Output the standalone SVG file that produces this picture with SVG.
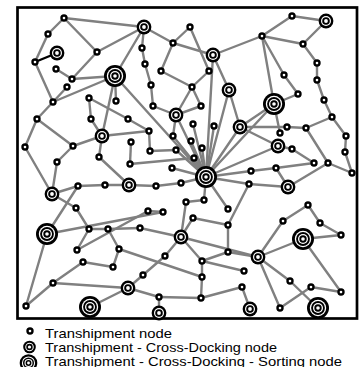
<svg xmlns="http://www.w3.org/2000/svg" xmlns:xlink="http://www.w3.org/1999/xlink" width="361" height="367" viewBox="0 0 361 367">
<style>
.e line{stroke:#808080;stroke-width:2.4;stroke-linecap:round}
.e line.k{stroke:#000}
.t{font-family:"Liberation Sans",Arial,sans-serif;font-size:13px;fill:#000}
</style>
<defs>
<g id="s"><circle r="2.5" fill="#fff" stroke="#000" stroke-width="2.4"/></g>
<g id="m"><circle r="7.4" fill="#000"/><circle r="5" fill="#fff"/><circle r="3.8" fill="#000"/><circle r="1.9" fill="#fff"/></g>
<g id="l"><circle r="11" fill="#000"/><circle r="8.2" fill="#fff"/><circle r="6.9" fill="#000"/><circle r="5" fill="#fff"/><circle r="3.7" fill="#000"/><circle r="1.8" fill="#fff"/></g>
</defs>
<rect x="17.5" y="7.5" width="339.5" height="311" fill="#fff" stroke="#000" stroke-width="2.7"/>
<g id="connectors" class="e">
<line x1="64" y1="18" x2="48" y2="34"/>
<line x1="64" y1="18" x2="144" y2="27"/>
<line x1="64" y1="18" x2="97" y2="52"/>
<line x1="48" y1="34" x2="35" y2="62"/>
<line x1="35" y1="62" x2="53" y2="102"/>
<line x1="56" y1="69" x2="72" y2="79"/>
<line x1="97" y1="52" x2="72" y2="79"/>
<line x1="97" y1="52" x2="144" y2="27"/>
<line x1="72" y1="79" x2="115" y2="76"/>
<line x1="67" y1="87" x2="53" y2="102"/>
<line x1="53" y1="102" x2="115" y2="76"/>
<line x1="53" y1="102" x2="37" y2="119"/>
<line x1="115" y1="76" x2="116" y2="101"/>
<line x1="115" y1="76" x2="102" y2="136"/>
<line x1="115" y1="76" x2="206" y2="177"/>
<line x1="115" y1="76" x2="144" y2="27"/>
<line x1="89" y1="98" x2="91" y2="119"/>
<line x1="89" y1="98" x2="128" y2="119"/>
<line x1="37" y1="119" x2="25" y2="147"/>
<line x1="37" y1="119" x2="73" y2="146"/>
<line x1="73" y1="146" x2="102" y2="136"/>
<line x1="57" y1="162" x2="73" y2="146"/>
<line x1="91" y1="119" x2="102" y2="136"/>
<line x1="102" y1="136" x2="149" y2="131"/>
<line x1="102" y1="136" x2="99" y2="157"/>
<line x1="99" y1="157" x2="129" y2="185"/>
<line x1="25" y1="147" x2="52" y2="194"/>
<line x1="57" y1="162" x2="52" y2="194"/>
<line x1="52" y1="194" x2="78" y2="186"/>
<line x1="78" y1="186" x2="105" y2="185"/>
<line x1="105" y1="185" x2="129" y2="185"/>
<line x1="129" y1="185" x2="156" y2="186"/>
<line x1="156" y1="186" x2="181" y2="183"/>
<line x1="52" y1="194" x2="76" y2="208"/>
<line x1="144" y1="27" x2="142" y2="48"/>
<line x1="144" y1="27" x2="173" y2="43"/>
<line x1="173" y1="43" x2="190" y2="27"/>
<line x1="173" y1="43" x2="213" y2="55"/>
<line x1="173" y1="43" x2="161" y2="71"/>
<line x1="190" y1="27" x2="209" y2="71"/>
<line x1="213" y1="55" x2="262" y2="36"/>
<line x1="213" y1="55" x2="229" y2="90"/>
<line x1="142" y1="48" x2="145" y2="64"/>
<line x1="145" y1="64" x2="151" y2="85"/>
<line x1="161" y1="71" x2="192" y2="87"/>
<line x1="209" y1="71" x2="192" y2="87"/>
<line x1="192" y1="87" x2="201" y2="106"/>
<line x1="192" y1="87" x2="176" y2="115"/>
<line x1="201" y1="106" x2="176" y2="115"/>
<line x1="151" y1="85" x2="153" y2="106"/>
<line x1="153" y1="106" x2="176" y2="115"/>
<line x1="229" y1="90" x2="240" y2="127"/>
<line x1="229" y1="90" x2="206" y2="177"/>
<line x1="213" y1="55" x2="206" y2="177"/>
<line x1="292" y1="16" x2="326" y2="21"/>
<line x1="292" y1="16" x2="262" y2="36"/>
<line x1="262" y1="36" x2="303" y2="44"/>
<line x1="262" y1="36" x2="274" y2="104"/>
<line x1="262" y1="36" x2="284" y2="75"/>
<line x1="326" y1="21" x2="303" y2="44"/>
<line x1="303" y1="44" x2="317" y2="63"/>
<line x1="317" y1="63" x2="317" y2="80"/>
<line x1="317" y1="80" x2="324" y2="100"/>
<line x1="284" y1="75" x2="298" y2="94"/>
<line x1="298" y1="94" x2="274" y2="104"/>
<line x1="274" y1="104" x2="240" y2="127"/>
<line x1="274" y1="104" x2="206" y2="177"/>
<line x1="240" y1="127" x2="278" y2="146"/>
<line x1="206" y1="177" x2="278" y2="146"/>
<line x1="206" y1="177" x2="240" y2="127"/>
<line x1="128" y1="119" x2="149" y2="131"/>
<line x1="149" y1="131" x2="150" y2="151"/>
<line x1="131" y1="142" x2="130" y2="164"/>
<line x1="130" y1="164" x2="194" y2="158"/>
<line x1="176" y1="115" x2="173" y2="136"/>
<line x1="176" y1="115" x2="206" y2="177"/>
<line x1="193" y1="124" x2="206" y2="177"/>
<line x1="214" y1="126" x2="206" y2="177"/>
<line x1="173" y1="136" x2="206" y2="177"/>
<line x1="191" y1="141" x2="206" y2="177"/>
<line x1="176" y1="150" x2="206" y2="177"/>
<line x1="202" y1="148" x2="206" y2="177"/>
<line x1="194" y1="158" x2="206" y2="177"/>
<line x1="172" y1="168" x2="206" y2="177"/>
<line x1="181" y1="183" x2="206" y2="177"/>
<line x1="206" y1="177" x2="204" y2="200"/>
<line x1="206" y1="177" x2="251" y2="171"/>
<line x1="251" y1="171" x2="276" y2="168"/>
<line x1="206" y1="177" x2="249" y2="184"/>
<line x1="249" y1="184" x2="288" y2="187"/>
<line x1="150" y1="151" x2="176" y2="150"/>
<line x1="274" y1="104" x2="280" y2="133"/>
<line x1="240" y1="127" x2="287" y2="127"/>
<line x1="287" y1="127" x2="306" y2="128"/>
<line x1="306" y1="128" x2="332" y2="117"/>
<line x1="332" y1="117" x2="324" y2="100"/>
<line x1="332" y1="117" x2="346" y2="136"/>
<line x1="346" y1="136" x2="345" y2="152"/>
<line x1="345" y1="152" x2="352" y2="173"/>
<line x1="306" y1="128" x2="328" y2="163"/>
<line x1="328" y1="163" x2="352" y2="173"/>
<line x1="328" y1="163" x2="288" y2="187"/>
<line x1="292" y1="149" x2="314" y2="163"/>
<line x1="314" y1="163" x2="276" y2="168"/>
<line x1="276" y1="168" x2="288" y2="187"/>
<line x1="278" y1="146" x2="292" y2="149"/>
<line x1="283" y1="221" x2="308" y2="205"/>
<line x1="320" y1="223" x2="308" y2="205"/>
<line x1="320" y1="223" x2="341" y2="235"/>
<line x1="303" y1="239" x2="341" y2="235"/>
<line x1="303" y1="239" x2="258" y2="257"/>
<line x1="303" y1="239" x2="341" y2="292"/>
<line x1="283" y1="221" x2="258" y2="257"/>
<line x1="258" y1="257" x2="228" y2="252"/>
<line x1="258" y1="257" x2="280" y2="308"/>
<line x1="258" y1="257" x2="290" y2="281"/>
<line x1="290" y1="281" x2="318" y2="308"/>
<line x1="242" y1="287" x2="250" y2="309"/>
<line x1="244" y1="271" x2="202" y2="261"/>
<line x1="311" y1="287" x2="341" y2="292"/>
<line x1="311" y1="287" x2="280" y2="308"/>
<line x1="181" y1="237" x2="258" y2="257"/>
<line x1="108" y1="229" x2="140" y2="228"/>
<line x1="140" y1="228" x2="181" y2="237"/>
<line x1="181" y1="237" x2="186" y2="202"/>
<line x1="181" y1="237" x2="193" y2="218"/>
<line x1="193" y1="218" x2="228" y2="225"/>
<line x1="181" y1="237" x2="165" y2="256"/>
<line x1="165" y1="256" x2="143" y2="275"/>
<line x1="143" y1="275" x2="128" y2="288"/>
<line x1="181" y1="237" x2="202" y2="261"/>
<line x1="202" y1="261" x2="202" y2="277"/>
<line x1="202" y1="277" x2="201" y2="298"/>
<line x1="201" y1="298" x2="159" y2="297"/>
<line x1="159" y1="297" x2="128" y2="288"/>
<line x1="159" y1="297" x2="159" y2="313"/>
<line x1="201" y1="298" x2="242" y2="287"/>
<line x1="119" y1="249" x2="202" y2="277"/>
<line x1="228" y1="225" x2="228" y2="252"/>
<line x1="228" y1="252" x2="202" y2="261"/>
<line x1="228" y1="225" x2="249" y2="184"/>
<line x1="47" y1="234" x2="163" y2="212"/>
<line x1="47" y1="234" x2="78" y2="186"/>
<line x1="47" y1="234" x2="26" y2="306"/>
<line x1="89" y1="229" x2="77" y2="250"/>
<line x1="89" y1="229" x2="108" y2="229"/>
<line x1="76" y1="208" x2="89" y2="229"/>
<line x1="108" y1="229" x2="119" y2="249"/>
<line x1="119" y1="249" x2="113" y2="267"/>
<line x1="83" y1="262" x2="113" y2="267"/>
<line x1="83" y1="262" x2="53" y2="283"/>
<line x1="53" y1="283" x2="26" y2="306"/>
<line x1="53" y1="283" x2="128" y2="288"/>
<line x1="90" y1="307" x2="128" y2="288"/>
<line x1="77" y1="250" x2="148" y2="211"/>
<line x1="148" y1="211" x2="163" y2="212"/>
<line x1="206" y1="177" x2="228" y2="209"/>
<line x1="204" y1="200" x2="186" y2="202"/>
<line class="k" x1="35" y1="62" x2="57" y2="53"/>
</g>
<g id="n1"><use xlink:href="#s" x="64" y="18"/></g>
<g id="n2"><use xlink:href="#s" x="48" y="34"/></g>
<g id="n3"><use xlink:href="#m" x="57" y="53"/></g>
<g id="n4"><use xlink:href="#s" x="35" y="62"/></g>
<g id="n5"><use xlink:href="#s" x="56" y="69"/></g>
<g id="n6"><use xlink:href="#s" x="97" y="52"/></g>
<g id="n7"><use xlink:href="#l" x="115" y="76"/></g>
<g id="n8"><use xlink:href="#s" x="72" y="79"/></g>
<g id="n9"><use xlink:href="#s" x="67" y="87"/></g>
<g id="n10"><use xlink:href="#s" x="89" y="98"/></g>
<g id="n11"><use xlink:href="#s" x="53" y="102"/></g>
<g id="n12"><use xlink:href="#s" x="116" y="101"/></g>
<g id="n13"><use xlink:href="#m" x="144" y="27"/></g>
<g id="n14"><use xlink:href="#s" x="190" y="27"/></g>
<g id="n15"><use xlink:href="#s" x="173" y="43"/></g>
<g id="n16"><use xlink:href="#s" x="142" y="48"/></g>
<g id="n17"><use xlink:href="#m" x="213" y="55"/></g>
<g id="n18"><use xlink:href="#s" x="145" y="64"/></g>
<g id="n19"><use xlink:href="#s" x="161" y="71"/></g>
<g id="n20"><use xlink:href="#s" x="209" y="71"/></g>
<g id="n21"><use xlink:href="#s" x="151" y="85"/></g>
<g id="n22"><use xlink:href="#s" x="192" y="87"/></g>
<g id="n23"><use xlink:href="#m" x="229" y="90"/></g>
<g id="n24"><use xlink:href="#s" x="153" y="106"/></g>
<g id="n25"><use xlink:href="#s" x="201" y="106"/></g>
<g id="n26"><use xlink:href="#m" x="176" y="115"/></g>
<g id="n27"><use xlink:href="#s" x="292" y="16"/></g>
<g id="n28"><use xlink:href="#m" x="326" y="21"/></g>
<g id="n29"><use xlink:href="#s" x="262" y="36"/></g>
<g id="n30"><use xlink:href="#s" x="303" y="44"/></g>
<g id="n31"><use xlink:href="#s" x="317" y="63"/></g>
<g id="n32"><use xlink:href="#s" x="284" y="75"/></g>
<g id="n33"><use xlink:href="#s" x="317" y="80"/></g>
<g id="n34"><use xlink:href="#s" x="298" y="94"/></g>
<g id="n35"><use xlink:href="#l" x="274" y="104"/></g>
<g id="n36"><use xlink:href="#s" x="324" y="100"/></g>
<g id="n37"><use xlink:href="#s" x="37" y="119"/></g>
<g id="n38"><use xlink:href="#s" x="91" y="119"/></g>
<g id="n39"><use xlink:href="#s" x="25" y="147"/></g>
<g id="n40"><use xlink:href="#s" x="73" y="146"/></g>
<g id="n41"><use xlink:href="#m" x="102" y="136"/></g>
<g id="n42"><use xlink:href="#s" x="99" y="157"/></g>
<g id="n43"><use xlink:href="#s" x="57" y="162"/></g>
<g id="n44"><use xlink:href="#s" x="78" y="186"/></g>
<g id="n45"><use xlink:href="#s" x="105" y="185"/></g>
<g id="n46"><use xlink:href="#m" x="129" y="185"/></g>
<g id="n47"><use xlink:href="#m" x="52" y="194"/></g>
<g id="n48"><use xlink:href="#s" x="76" y="208"/></g>
<g id="n49"><use xlink:href="#s" x="128" y="119"/></g>
<g id="n50"><use xlink:href="#s" x="193" y="124"/></g>
<g id="n51"><use xlink:href="#s" x="214" y="126"/></g>
<g id="n52"><use xlink:href="#m" x="240" y="127"/></g>
<g id="n53"><use xlink:href="#s" x="149" y="131"/></g>
<g id="n54"><use xlink:href="#s" x="173" y="136"/></g>
<g id="n55"><use xlink:href="#s" x="191" y="141"/></g>
<g id="n56"><use xlink:href="#s" x="131" y="142"/></g>
<g id="n57"><use xlink:href="#s" x="150" y="151"/></g>
<g id="n58"><use xlink:href="#s" x="176" y="150"/></g>
<g id="n59"><use xlink:href="#s" x="202" y="148"/></g>
<g id="n60"><use xlink:href="#s" x="194" y="158"/></g>
<g id="n61"><use xlink:href="#s" x="130" y="164"/></g>
<g id="n62"><use xlink:href="#s" x="172" y="168"/></g>
<g id="n63"><use xlink:href="#l" x="206" y="177"/></g>
<g id="n64"><use xlink:href="#s" x="156" y="186"/></g>
<g id="n65"><use xlink:href="#s" x="181" y="183"/></g>
<g id="n66"><use xlink:href="#s" x="204" y="200"/></g>
<g id="n67"><use xlink:href="#s" x="186" y="202"/></g>
<g id="n68"><use xlink:href="#s" x="148" y="211"/></g>
<g id="n69"><use xlink:href="#s" x="163" y="212"/></g>
<g id="n70"><use xlink:href="#s" x="228" y="209"/></g>
<g id="n71"><use xlink:href="#s" x="287" y="127"/></g>
<g id="n72"><use xlink:href="#s" x="280" y="133"/></g>
<g id="n73"><use xlink:href="#s" x="306" y="128"/></g>
<g id="n74"><use xlink:href="#s" x="332" y="117"/></g>
<g id="n75"><use xlink:href="#s" x="346" y="136"/></g>
<g id="n76"><use xlink:href="#s" x="345" y="152"/></g>
<g id="n77"><use xlink:href="#m" x="278" y="146"/></g>
<g id="n78"><use xlink:href="#s" x="292" y="149"/></g>
<g id="n79"><use xlink:href="#s" x="314" y="163"/></g>
<g id="n80"><use xlink:href="#s" x="328" y="163"/></g>
<g id="n81"><use xlink:href="#s" x="352" y="173"/></g>
<g id="n82"><use xlink:href="#s" x="251" y="171"/></g>
<g id="n83"><use xlink:href="#s" x="276" y="168"/></g>
<g id="n84"><use xlink:href="#s" x="249" y="184"/></g>
<g id="n85"><use xlink:href="#m" x="288" y="187"/></g>
<g id="n86"><use xlink:href="#s" x="308" y="205"/></g>
<g id="n87"><use xlink:href="#l" x="47" y="234"/></g>
<g id="n88"><use xlink:href="#s" x="89" y="229"/></g>
<g id="n89"><use xlink:href="#s" x="108" y="229"/></g>
<g id="n90"><use xlink:href="#s" x="77" y="250"/></g>
<g id="n91"><use xlink:href="#s" x="119" y="249"/></g>
<g id="n92"><use xlink:href="#s" x="83" y="262"/></g>
<g id="n93"><use xlink:href="#s" x="113" y="267"/></g>
<g id="n94"><use xlink:href="#s" x="53" y="283"/></g>
<g id="n95"><use xlink:href="#s" x="26" y="306"/></g>
<g id="n96"><use xlink:href="#m" x="128" y="288"/></g>
<g id="n97"><use xlink:href="#l" x="90" y="307"/></g>
<g id="n98"><use xlink:href="#s" x="193" y="218"/></g>
<g id="n99"><use xlink:href="#s" x="140" y="228"/></g>
<g id="n100"><use xlink:href="#m" x="181" y="237"/></g>
<g id="n101"><use xlink:href="#s" x="228" y="225"/></g>
<g id="n102"><use xlink:href="#s" x="228" y="252"/></g>
<g id="n104"><use xlink:href="#s" x="165" y="256"/></g>
<g id="n105"><use xlink:href="#s" x="202" y="261"/></g>
<g id="n106"><use xlink:href="#s" x="143" y="275"/></g>
<g id="n107"><use xlink:href="#s" x="202" y="277"/></g>
<g id="n108"><use xlink:href="#s" x="159" y="297"/></g>
<g id="n109"><use xlink:href="#s" x="201" y="298"/></g>
<g id="n110"><use xlink:href="#m" x="159" y="313"/></g>
<g id="n111"><use xlink:href="#s" x="283" y="221"/></g>
<g id="n112"><use xlink:href="#s" x="320" y="223"/></g>
<g id="n113"><use xlink:href="#s" x="341" y="235"/></g>
<g id="n114"><use xlink:href="#l" x="303" y="239"/></g>
<g id="n115"><use xlink:href="#m" x="258" y="257"/></g>
<g id="n116"><use xlink:href="#s" x="244" y="271"/></g>
<g id="n117"><use xlink:href="#s" x="290" y="281"/></g>
<g id="n118"><use xlink:href="#s" x="242" y="287"/></g>
<g id="n119"><use xlink:href="#s" x="311" y="287"/></g>
<g id="n120"><use xlink:href="#s" x="341" y="292"/></g>
<g id="n121"><use xlink:href="#m" x="250" y="309"/></g>
<g id="n122"><use xlink:href="#s" x="280" y="308"/></g>
<g id="n123"><use xlink:href="#l" x="318" y="308"/></g>
<g id="legend">
<use xlink:href="#s" x="30" y="331"/>
<use xlink:href="#m" transform="translate(29.5 347) scale(0.85)"/>
<use xlink:href="#l" transform="translate(28.5 363) scale(0.8)"/>
<text class="t" x="45" y="338" textLength="127" lengthAdjust="spacingAndGlyphs">Transhipment node</text>
<text class="t" x="45" y="351.5" textLength="232" lengthAdjust="spacingAndGlyphs">Transhipment - Cross-Docking node</text>
<text class="t" x="45" y="365.5" textLength="297" lengthAdjust="spacingAndGlyphs">Transhipment - Cross-Docking - Sorting node</text>
</g>
</svg>
